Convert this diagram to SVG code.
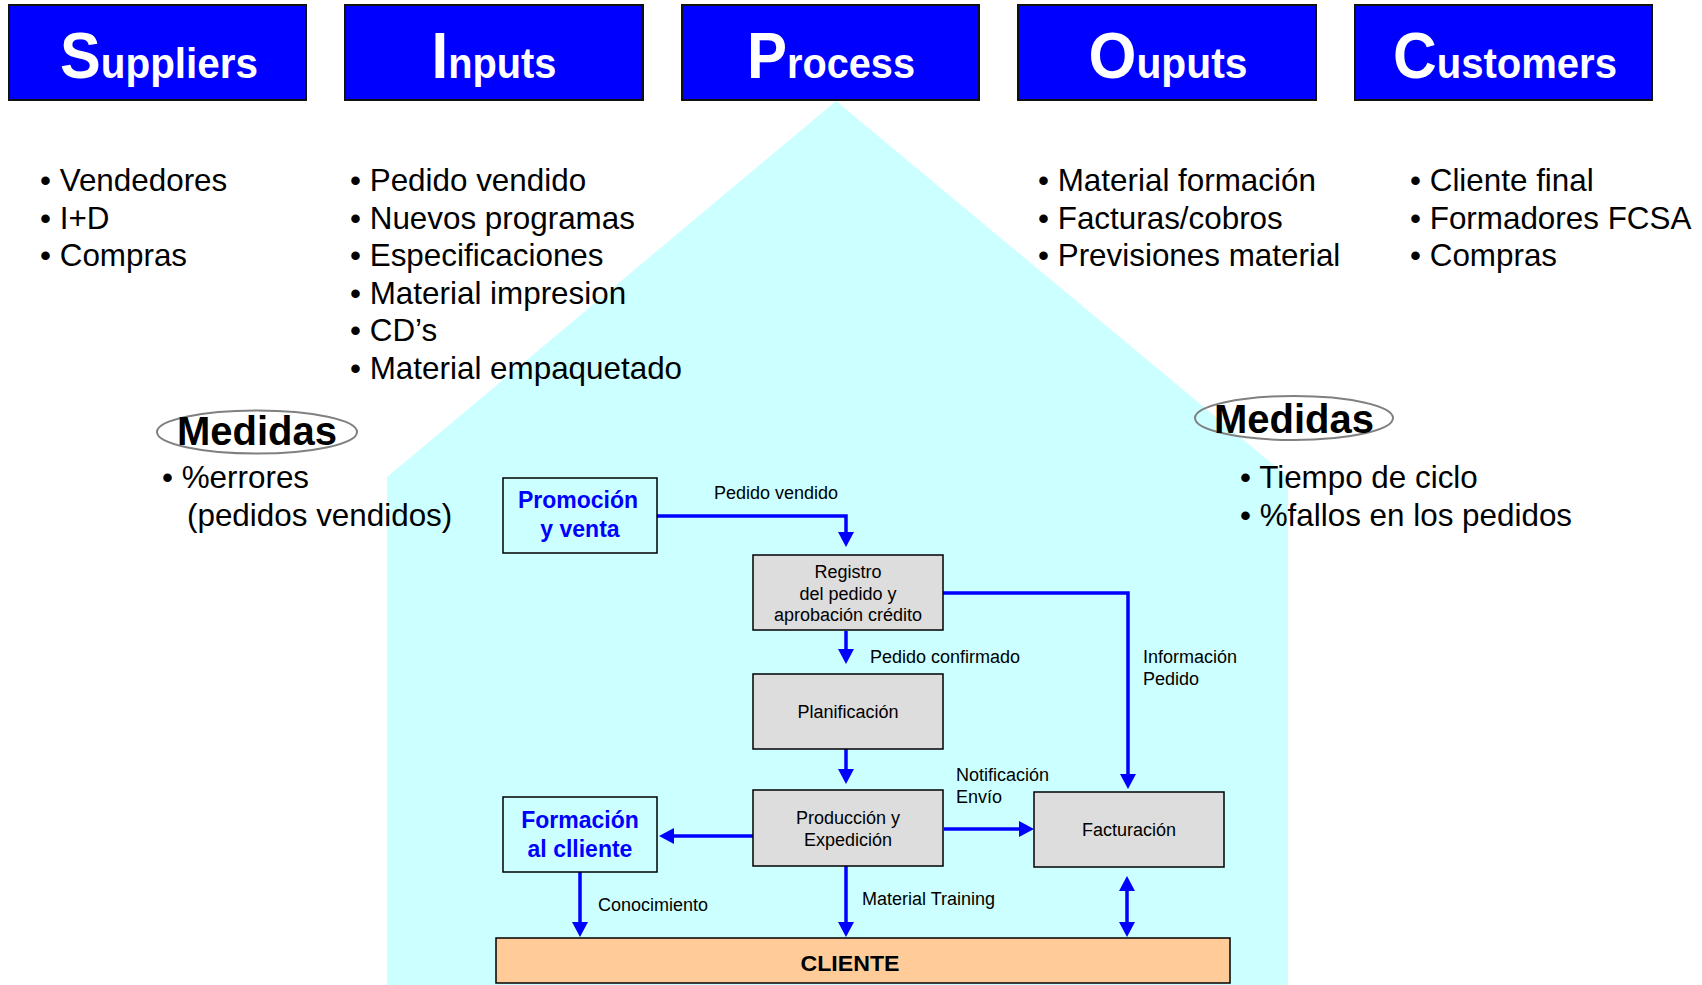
<svg xmlns="http://www.w3.org/2000/svg" width="1702" height="985" viewBox="0 0 1702 985">
  <defs>
    <style>
      text { font-family: "Liberation Sans", Arial, sans-serif; fill: #000; }
      .hdr { fill: #0000FF; stroke: #111; stroke-width: 2; }
      .hdr-t { fill: #fff; font-weight: bold; font-size: 43px; }
      .hdr-t .big { font-size: 65px; }
      .bul { font-size: 31.4px; }
      .med { font-size: 40px; font-weight: bold; }
      .oval { fill: none; stroke: #808080; stroke-width: 2; }
      .proc { fill: #DDDDDD; stroke: #000; stroke-width: 1.5; }
      .ext { fill: none; stroke: #000; stroke-width: 1.5; }
      .cli { fill: #FFCC99; stroke: #000; stroke-width: 1.5; }
      .bt { font-size: 18px; text-anchor: middle; }
      .lbl { font-size: 18px; }
      .blue { font-size: 23px; font-weight: bold; fill: #0000FF; text-anchor: middle; }
      .flow { fill: none; stroke: #0000FF; stroke-width: 3.5; marker-end: url(#ah); }
    </style>
    <marker id="ah" viewBox="0 0 15 16" refX="7" refY="8" markerWidth="15" markerHeight="16" markerUnits="userSpaceOnUse" orient="auto-start-reverse">
      <path d="M0,0 L15,8 L0,16 z" fill="#0000FF"/>
    </marker>
  </defs>

  <rect width="1702" height="985" fill="#fff"/>

  <!-- process "house" backdrop -->
  <polygon points="836,101 1288,477 1288,985 387,985 387,477" fill="#CCFFFF"/>

  <!-- SIPOC header bar -->
  <g id="hdr-suppliers">
    <rect class="hdr" x="9" y="5" width="297" height="95"/>
    <text class="hdr-t" x="159" y="78" text-anchor="middle" textLength="198" lengthAdjust="spacingAndGlyphs"><tspan class="big">S</tspan>uppliers</text>
  </g>
  <g id="hdr-inputs">
    <rect class="hdr" x="345" y="5" width="298" height="95"/>
    <text class="hdr-t" x="494" y="78" text-anchor="middle" textLength="125" lengthAdjust="spacingAndGlyphs"><tspan class="big">I</tspan>nputs</text>
  </g>
  <g id="hdr-process">
    <rect class="hdr" x="682" y="5" width="297" height="95"/>
    <text class="hdr-t" x="831" y="78" text-anchor="middle" textLength="168" lengthAdjust="spacingAndGlyphs"><tspan class="big">P</tspan>rocess</text>
  </g>
  <g id="hdr-outputs">
    <rect class="hdr" x="1018" y="5" width="298" height="95"/>
    <text class="hdr-t" x="1168" y="78" text-anchor="middle" textLength="159" lengthAdjust="spacingAndGlyphs"><tspan class="big">O</tspan>uputs</text>
  </g>
  <g id="hdr-customers">
    <rect class="hdr" x="1355" y="5" width="297" height="95"/>
    <text class="hdr-t" x="1505" y="78" text-anchor="middle" textLength="224" lengthAdjust="spacingAndGlyphs"><tspan class="big">C</tspan>ustomers</text>
  </g>

  <!-- bullet lists under each header -->
  <g id="list-suppliers">
    <text class="bul" x="40" y="191">• Vendedores</text>
    <text class="bul" x="40" y="228.5">• I+D</text>
    <text class="bul" x="40" y="266">• Compras</text>
  </g>
  <g id="list-inputs">
    <text class="bul" x="350" y="191">• Pedido vendido</text>
    <text class="bul" x="350" y="228.5">• Nuevos programas</text>
    <text class="bul" x="350" y="266">• Especificaciones</text>
    <text class="bul" x="350" y="303.5">• Material impresion</text>
    <text class="bul" x="350" y="341">• CD’s</text>
    <text class="bul" x="350" y="378.5">• Material empaquetado</text>
  </g>
  <g id="list-outputs">
    <text class="bul" x="1038" y="191">• Material formación</text>
    <text class="bul" x="1038" y="228.5">• Facturas/cobros</text>
    <text class="bul" x="1038" y="266">• Previsiones material</text>
  </g>
  <g id="list-customers">
    <text class="bul" x="1410" y="191">• Cliente final</text>
    <text class="bul" x="1410" y="228.5">• Formadores FCSA</text>
    <text class="bul" x="1410" y="266">• Compras</text>
  </g>

  <!-- measures -->
  <g id="medidas-left">
    <ellipse class="oval" cx="257" cy="432" rx="100" ry="21.5"/>
    <text class="med" x="257" y="445" text-anchor="middle">Medidas</text>
    <text class="bul" x="162" y="488">• %errores</text>
    <text class="bul" x="187" y="526">(pedidos vendidos)</text>
  </g>
  <g id="medidas-right">
    <ellipse class="oval" cx="1294" cy="418" rx="99" ry="22"/>
    <text class="med" x="1294" y="433" text-anchor="middle">Medidas</text>
    <text class="bul" x="1240" y="488">• Tiempo de ciclo</text>
    <text class="bul" x="1240" y="526">• %fallos en los pedidos</text>
  </g>

  <!-- connectors -->
  <g id="connectors">
    <path class="flow" d="M657,516 H846 V539"/>
    <path class="flow" d="M943,593 H1128 V781"/>
    <path class="flow" d="M846,631 V656"/>
    <path class="flow" d="M846,749 V776"/>
    <path class="flow" d="M944,829 H1026"/>
    <path class="flow" d="M754,836 H667"/>
    <path class="flow" d="M580,872 V929"/>
    <path class="flow" d="M846,866 V929"/>
    <path class="flow" d="M1127,884 V929" style="marker-start:url(#ah)"/>
    <text class="lbl" x="714" y="499">Pedido vendido</text>
    <text class="lbl" x="870" y="663">Pedido confirmado</text>
    <text class="lbl" x="1143" y="663">Información</text>
    <text class="lbl" x="1143" y="685">Pedido</text>
    <text class="lbl" x="956" y="781">Notificación</text>
    <text class="lbl" x="956" y="803">Envío</text>
    <text class="lbl" x="598" y="911">Conocimiento</text>
    <text class="lbl" x="862" y="905">Material Training</text>
  </g>

  <!-- process nodes -->
  <g id="promocion">
    <rect class="ext" x="503" y="478" width="154" height="75"/>
    <text class="blue" x="578" y="508">Promoción</text>
    <text class="blue" x="580" y="537">y venta</text>
  </g>
  <g id="registro">
    <rect class="proc" x="753" y="555" width="190" height="75"/>
    <text class="bt" x="848" y="578">Registro</text>
    <text class="bt" x="848" y="600">del pedido y</text>
    <text class="bt" x="848" y="621">aprobación crédito</text>
  </g>
  <g id="planificacion">
    <rect class="proc" x="753" y="674" width="190" height="75"/>
    <text class="bt" x="848" y="718">Planificación</text>
  </g>
  <g id="produccion">
    <rect class="proc" x="753" y="790" width="190" height="76"/>
    <text class="bt" x="848" y="824">Producción y</text>
    <text class="bt" x="848" y="846">Expedición</text>
  </g>
  <g id="facturacion">
    <rect class="proc" x="1034" y="792" width="190" height="75"/>
    <text class="bt" x="1129" y="836">Facturación</text>
  </g>
  <g id="formacion">
    <rect class="ext" x="503" y="797" width="154" height="75"/>
    <text class="blue" x="580" y="828">Formación</text>
    <text class="blue" x="580" y="857">al clliente</text>
  </g>
  <g id="cliente">
    <rect class="cli" x="496" y="938" width="734" height="45"/>
    <text x="850" y="971" text-anchor="middle" font-size="22" font-weight="bold" textLength="99" lengthAdjust="spacingAndGlyphs">CLIENTE</text>
  </g>
</svg>
